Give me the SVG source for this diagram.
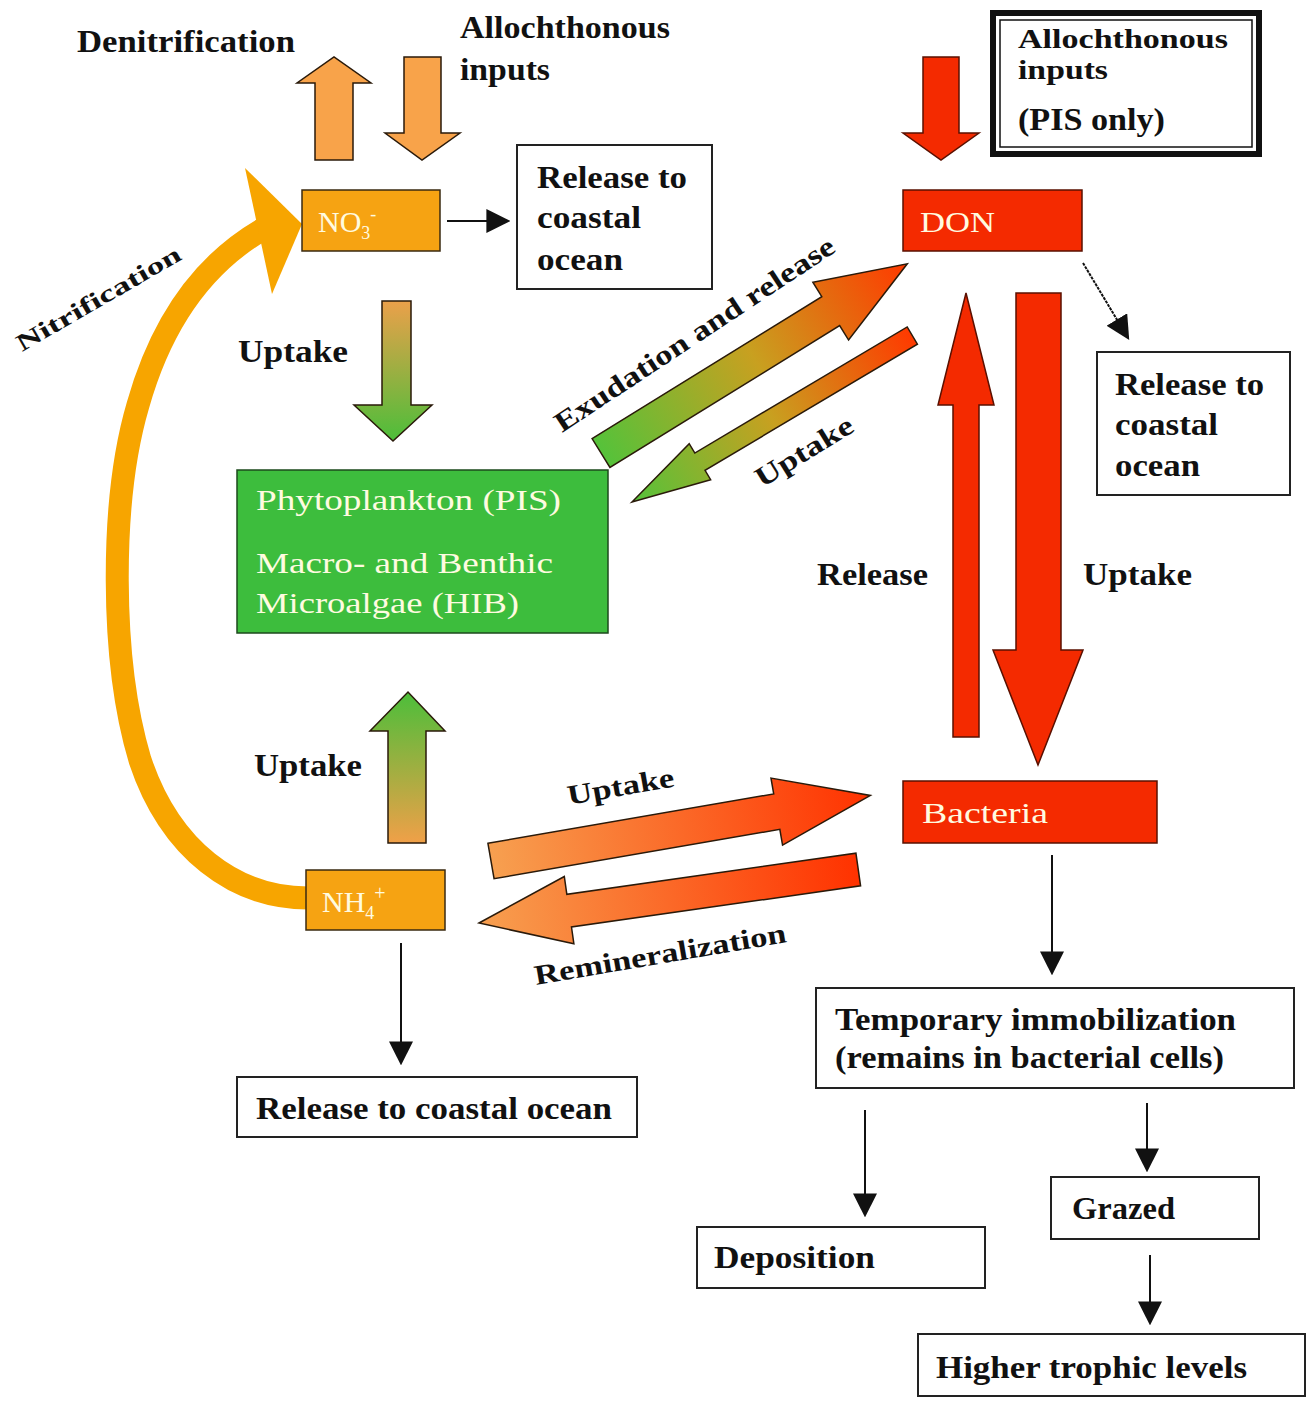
<svg xmlns="http://www.w3.org/2000/svg" width="1307" height="1405" viewBox="0 0 1307 1405">
<defs>
<style>
.t{font-family:"Liberation Serif","Times New Roman",serif;font-weight:bold;font-size:31px;fill:#111}
.w{font-family:"Liberation Serif","Times New Roman",serif;font-size:30px;fill:#FFFBE0}
.box{fill:#fff;stroke:#222;stroke-width:2}
.orange{fill:#F6A312;stroke:#3a2a10;stroke-width:1.5}
.red{fill:#F42A00;stroke:#5a1000;stroke-width:1.5}
.green{fill:#3DBD3D;stroke:#1c4a1c;stroke-width:1.5}
.ln{stroke:#111;stroke-width:2;fill:none}
.blk{stroke:#2a1a0a;stroke-width:1.5}
</style>
<marker id="ahb" viewBox="0 0 10 10" refX="9" refY="5" markerWidth="24" markerHeight="24" markerUnits="userSpaceOnUse" orient="auto">
<path d="M0,0 L10,5 L0,10 z" fill="#111"/>
</marker>
<linearGradient id="gDown" x1="0" y1="0" x2="0" y2="1"><stop offset="0" stop-color="#EBA04A"/><stop offset="1" stop-color="#4CBE3A"/></linearGradient>
<linearGradient id="gUp" x1="0" y1="0" x2="0" y2="1"><stop offset="0" stop-color="#4CBE3A"/><stop offset="1" stop-color="#F0A048"/></linearGradient>
<linearGradient id="gGR" x1="0" y1="0" x2="1" y2="0"><stop offset="0" stop-color="#55C23A"/><stop offset="0.5" stop-color="#C8A020"/><stop offset="1" stop-color="#FF3A00"/></linearGradient>
<linearGradient id="gOR" x1="0" y1="0" x2="1" y2="0"><stop offset="0" stop-color="#F7A050"/><stop offset="1" stop-color="#FF3200"/></linearGradient>
</defs>
<rect width="1307" height="1405" fill="#fff"/>

<g id="connectors">
  <path d="M308,898 C235,898 170,850 140,760 C110,660 110,500 138,405 C162,320 205,262 265,228" fill="none" stroke="#F7A500" stroke-width="23"/>
  <polygon points="245,168 302,224 272,294" fill="#F7A500"/>
  <polygon class="blk" points="315,160 353,160 353,83 371,83 334,57 297,83 315,83" fill="#F8A34A"/>
  <polygon class="blk" points="404,57 441,57 441,133 460,133 422,160 385,133 404,133" fill="#F8A34A"/>
  <line class="ln" x1="447" y1="221" x2="508" y2="221" marker-end="url(#ahb)"/>
  <polygon class="blk" points="382,301 411,301 411,405 432,405 393,441 354,405 382,405" fill="url(#gDown)"/>
  <polygon class="blk" points="388,843 426,843 426,731 445,731 408,692 370,731 388,731" fill="url(#gUp)"/>
  <line class="ln" x1="401" y1="943" x2="401" y2="1063" marker-end="url(#ahb)"/>
  <polygon class="red" points="923,57 959,57 959,133 979,133 941,160 903,133 923,133"/>
  <line class="ln" x1="1083" y1="263" x2="1128" y2="338" stroke-dasharray="3,1" marker-end="url(#ahb)"/>
  <polygon class="red" points="953,737 979,737 979,405 994,405 966,293 938,405 953,405"/>
  <polygon class="red" points="1016,293 1061,293 1061,650 1083,650 1038,765 993,650 1016,650"/>
  <polygon class="blk" transform="translate(601,453) rotate(-31.7)" points="0,-17 270,-17 270,-34 360,0 270,34 270,17 0,17" fill="url(#gGR)"/>
  <polygon class="blk" transform="translate(632,502) rotate(-30.7)" points="0,0 79,-21 79,-10 326,-10 326,10 79,10 79,21" fill="url(#gGR)"/>
  <polygon class="blk" transform="translate(491,861) rotate(-9.8)" points="0,-18 290,-18 290,-34 385,0 290,34 290,18 0,18" fill="url(#gOR)"/>
  <polygon class="blk" transform="translate(479,923) rotate(-8.1)" points="0,0 91,-34 91,-16 383,-16 383,17 91,17 91,34" fill="url(#gOR)"/>
  <line class="ln" x1="1052" y1="855" x2="1052" y2="973" marker-end="url(#ahb)"/>
  <line class="ln" x1="865" y1="1110" x2="865" y2="1215" marker-end="url(#ahb)"/>
  <line class="ln" x1="1147" y1="1103" x2="1147" y2="1170" marker-end="url(#ahb)"/>
  <line class="ln" x1="1150" y1="1255" x2="1150" y2="1323" marker-end="url(#ahb)"/>
</g>

<g id="labels">
  <text class="t" x="77" y="52" textLength="218" lengthAdjust="spacingAndGlyphs">Denitrification</text>
  <text class="t" x="460" y="38" textLength="210" lengthAdjust="spacingAndGlyphs">Allochthonous</text>
  <text class="t" x="460" y="80" textLength="90" lengthAdjust="spacingAndGlyphs">inputs</text>
  <text class="t" x="238" y="362" textLength="110" lengthAdjust="spacingAndGlyphs">Uptake</text>
  <text class="t" x="254" y="776" textLength="108" lengthAdjust="spacingAndGlyphs">Uptake</text>
  <text class="t" x="817" y="585" textLength="111" lengthAdjust="spacingAndGlyphs">Release</text>
  <text class="t" x="1083" y="585" textLength="109" lengthAdjust="spacingAndGlyphs">Uptake</text>
  <text class="t" style="font-size:24px" transform="translate(22,352) rotate(-30)" textLength="186" lengthAdjust="spacingAndGlyphs">Nitrification</text>
  <text class="t" style="font-size:28px" transform="translate(562,433) rotate(-33.5)" textLength="330" lengthAdjust="spacingAndGlyphs">Exudation and release</text>
  <text class="t" style="font-size:28px" transform="translate(762,488) rotate(-31.5)" textLength="110" lengthAdjust="spacingAndGlyphs">Uptake</text>
  <text class="t" style="font-size:28px" transform="translate(569,805) rotate(-10)" textLength="108" lengthAdjust="spacingAndGlyphs">Uptake</text>
  <text class="t" style="font-size:28px" transform="translate(536,985) rotate(-9.7)" textLength="255" lengthAdjust="spacingAndGlyphs">Remineralization</text>
</g>

<g id="no3">
  <rect class="orange" x="302" y="190" width="138" height="61"/>
  <text class="w" x="318" y="232">NO<tspan font-size="18" dy="7">3</tspan><tspan font-size="18" dy="-19">-</tspan></text>
</g>
<g id="release1">
  <rect class="box" x="517" y="145" width="195" height="144"/>
  <text class="t" x="537" y="188" textLength="150" lengthAdjust="spacingAndGlyphs">Release to</text>
  <text class="t" x="537" y="228" textLength="104" lengthAdjust="spacingAndGlyphs">coastal</text>
  <text class="t" x="537" y="270" textLength="86" lengthAdjust="spacingAndGlyphs">ocean</text>
</g>
<g id="phyto">
  <rect class="green" x="237" y="470" width="371" height="163"/>
  <text class="w" x="256" y="510" textLength="305" lengthAdjust="spacingAndGlyphs">Phytoplankton (PIS)</text>
  <text class="w" x="256" y="573" textLength="297" lengthAdjust="spacingAndGlyphs">Macro- and Benthic</text>
  <text class="w" x="256" y="613" textLength="263" lengthAdjust="spacingAndGlyphs">Microalgae (HIB)</text>
</g>
<g id="nh4">
  <rect class="orange" x="306" y="870" width="139" height="60"/>
  <text class="w" x="322" y="912">NH<tspan font-size="18" dy="7">4</tspan><tspan font-size="20" dy="-19">+</tspan></text>
</g>
<g id="release3">
  <rect class="box" x="237" y="1077" width="400" height="60"/>
  <text class="t" x="256" y="1119" textLength="356" lengthAdjust="spacingAndGlyphs">Release to coastal ocean</text>
</g>
<g id="allo">
  <rect x="993" y="13" width="266" height="141" fill="#fff" stroke="#111" stroke-width="6"/>
  <rect x="1000" y="20" width="252" height="127" fill="none" stroke="#111" stroke-width="1.5"/>
  <text class="t" style="font-size:28px" x="1018" y="48" textLength="210" lengthAdjust="spacingAndGlyphs">Allochthonous</text>
  <text class="t" style="font-size:28px" x="1018" y="79" textLength="90" lengthAdjust="spacingAndGlyphs">inputs</text>
  <text class="t" x="1018" y="130" textLength="147" lengthAdjust="spacingAndGlyphs">(PIS only)</text>
</g>
<g id="don">
  <rect class="red" x="903" y="190" width="179" height="61"/>
  <text class="w" x="920" y="232" textLength="75" lengthAdjust="spacingAndGlyphs">DON</text>
</g>
<g id="release2">
  <rect class="box" x="1097" y="352" width="193" height="143"/>
  <text class="t" x="1115" y="395" textLength="149" lengthAdjust="spacingAndGlyphs">Release to</text>
  <text class="t" x="1115" y="435" textLength="103" lengthAdjust="spacingAndGlyphs">coastal</text>
  <text class="t" x="1115" y="476" textLength="85" lengthAdjust="spacingAndGlyphs">ocean</text>
</g>
<g id="bacteria">
  <rect class="red" x="903" y="781" width="254" height="62"/>
  <text class="w" x="922" y="823" textLength="126" lengthAdjust="spacingAndGlyphs">Bacteria</text>
</g>
<g id="temporary">
  <rect class="box" x="816" y="988" width="478" height="100"/>
  <text class="t" x="835" y="1030" textLength="401" lengthAdjust="spacingAndGlyphs">Temporary immobilization</text>
  <text class="t" x="835" y="1068" textLength="389" lengthAdjust="spacingAndGlyphs">(remains in bacterial cells)</text>
</g>
<g id="deposition">
  <rect class="box" x="697" y="1227" width="288" height="61"/>
  <text class="t" x="714" y="1268" textLength="161" lengthAdjust="spacingAndGlyphs">Deposition</text>
</g>
<g id="grazed">
  <rect class="box" x="1051" y="1177" width="208" height="62"/>
  <text class="t" x="1072" y="1219" textLength="103" lengthAdjust="spacingAndGlyphs">Grazed</text>
</g>
<g id="higher">
  <rect class="box" x="918" y="1334" width="387" height="62"/>
  <text class="t" x="936" y="1378" textLength="311" lengthAdjust="spacingAndGlyphs">Higher trophic levels</text>
</g>
</svg>
